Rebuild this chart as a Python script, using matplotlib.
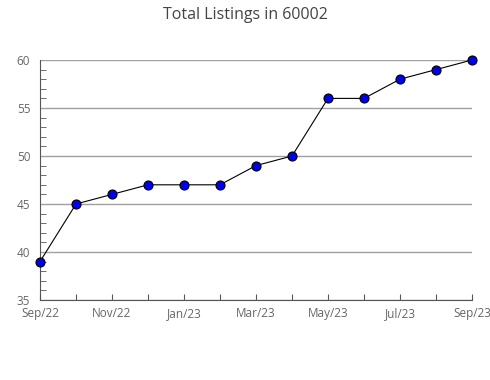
import matplotlib
matplotlib.use("Agg")
import matplotlib.pyplot as plt
from matplotlib.ticker import MultipleLocator

months = ["Sep/22", "Oct/22", "Nov/22", "Dec/22", "Jan/23", "Feb/23", "Mar/23",
          "Apr/23", "May/23", "Jun/23", "Jul/23", "Aug/23", "Sep/23"]
listings = [39, 45, 46, 47, 47, 47, 49, 50, 56, 56, 58, 59, 60]
yticks = [35, 40, 45, 50, 55, 60]

plt.rcParams['font.family'] = ['Open Sans', 'DejaVu Sans']

fig = plt.figure(figsize=(4.9, 3.8), dpi=100)
ax = fig.add_axes([40/490, 1 - 300/380, 432/490, 240/380])

x = list(range(len(months)))
ax.plot(x, listings, color='black', linewidth=0.8, marker='o', markersize=6.5,
        markerfacecolor='#0000ee', markeredgecolor='black', markeredgewidth=0.8,
        zorder=3, clip_on=False)

ax.set_xlim(0, len(months) - 1)
ax.set_ylim(35, 60)
ax.set_yticks(yticks)
ax.set_yticklabels([str(v) for v in yticks])
ax.yaxis.set_minor_locator(MultipleLocator(1))
ax.set_xticks(x)
ax.set_xticklabels([m if i % 2 == 0 else "" for i, m in enumerate(months)])

ax.grid(axis='y', color='#a0a0a0', linewidth=1)
ax.set_axisbelow(True)
for s in ['top', 'right']:
    ax.spines[s].set_visible(False)
for s in ['left', 'bottom']:
    ax.spines[s].set_color('#555555')
    ax.spines[s].set_linewidth(0.8)

ax.tick_params(axis='x', direction='in', length=4, color='#555555',
               labelsize=8.5, labelcolor='#666666', pad=5)
ax.tick_params(axis='y', which='major', length=0, labelsize=8.5,
               labelcolor='#666666', pad=7)
ax.tick_params(axis='y', which='minor', direction='in', length=4, color='#555555')
for lab in ax.get_yticklabels():
    lab.set_va('center_baseline')

fig.text(0.5, 1 - 15/380, "Total Listings in 60002", ha='center', va='center',
         fontsize=11.5, color='#444444')

fig.savefig("out.png", dpi=100)
